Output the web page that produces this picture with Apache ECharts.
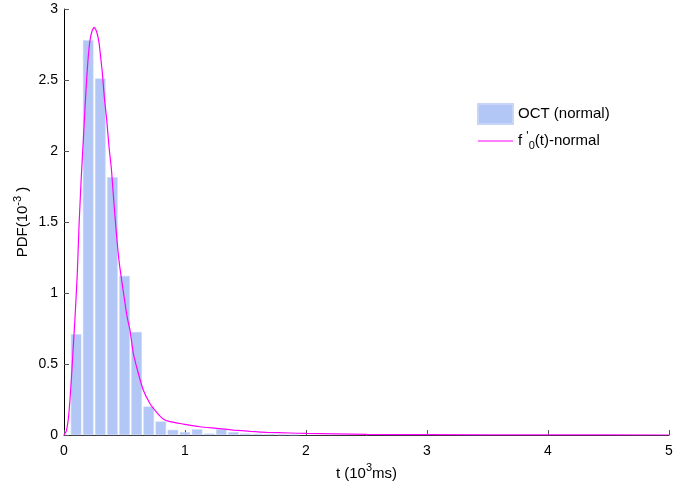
<!DOCTYPE html>
<html lang="en">
<head>
    <meta charset="utf-8">
    <title>PDF</title>
    <script src="https://cdn.jsdelivr.net/npm/echarts@6/dist/echarts.min.js"></script>
    <style type="text/css">
        html, body {
            margin: 0;
            padding: 0;
            background: #ffffff;
        }

        #main {
            width: 699px;
            height: 494px;
        }
    </style>
</head>
<body>
<div id="main"></div>
<script type="text/javascript">
    // histogram bins (bin centre, 10^3 ms) and heights (10^-3)
    let binCenters = [0.1, 0.2, 0.3, 0.4, 0.5, 0.6, 0.7, 0.8, 0.9, 1.0, 1.1, 1.2, 1.3, 1.4, 1.5, 1.6, 1.7, 1.8, 1.9];
    let binHeights = [0.71, 2.78, 2.51, 1.815, 1.12, 0.725, 0.2, 0.095, 0.036, 0.02, 0.04, 0.01, 0.04, 0.02, 0.01, 0.008, 0.006, 0.004, 0.003];

    // fitted curve
    let curveT = [0, 0.02, 0.04, 0.06, 0.075, 0.09, 0.11, 0.124, 0.143, 0.16, 0.174, 0.187, 0.2, 0.215, 0.234, 0.25,
        0.27, 0.29, 0.303, 0.317, 0.333, 0.353, 0.372, 0.392, 0.413, 0.435, 0.457, 0.48, 0.504, 0.522, 0.545, 0.573,
        0.614, 0.655, 0.71, 0.766, 0.82, 0.876, 0.986, 1.124, 1.26, 1.4, 1.54, 1.675, 1.87, 2.0, 2.5, 3, 4, 5];
    let curvePdf = [0, 0.03, 0.15, 0.38, 0.6, 0.81, 1.14, 1.47, 1.82, 2.08, 2.31, 2.5, 2.66, 2.78, 2.85, 2.87,
        2.84, 2.76, 2.66, 2.55, 2.38, 2.22, 2.03, 1.87, 1.63, 1.40, 1.21, 1.07, 0.93, 0.83, 0.74, 0.575,
        0.435, 0.317, 0.222, 0.16, 0.113, 0.094, 0.077, 0.058, 0.047, 0.035, 0.026, 0.019, 0.014, 0.011, 0.005, 0.002, 0.001, 0];

    let xTicks = [0, 1, 2, 3, 4, 5];
    let yTicks = [0, 0.5, 1, 1.5, 2, 2.5, 3];

    let barData = [];
    for (let i = 0; i < binCenters.length; i++) {
        barData.push([binCenters[i], binHeights[i]]);
    }
    let lineData = [];
    for (let i = 0; i < curveT.length; i++) {
        lineData.push([curveT[i], curvePdf[i]]);
    }

    let font = "'Liberation Sans', Arial, sans-serif";
    let myChart = echarts.init(document.getElementById('main'));

    myChart.setOption({
        animation: false,
        backgroundColor: '#ffffff',
        textStyle: {fontFamily: font},
        grid: {left: 64, right: 30, top: 9, bottom: 59, containLabel: false, outerBoundsMode: 'none'},
        legend: {
            orient: 'vertical',
            left: 477,
            top: 103,
            padding: 0,
            itemWidth: 35,
            itemHeight: 20,
            itemGap: 6,
            textStyle: {
                fontFamily: font,
                fontSize: 15,
                color: '#000',
                rich: {
                    n: {fontSize: 15, fontFamily: font, color: '#000', lineHeight: 20},
                    sup: {fontSize: 12, fontFamily: font, color: '#000', verticalAlign: 'top', lineHeight: 20},
                    sub: {fontSize: 11, fontFamily: font, color: '#000', verticalAlign: 'bottom', lineHeight: 20}
                }
            },
            formatter: function (name) {
                if (name === 'fit') {
                    return "{n|f }{sup|'}{sub|0}{n|(t)-normal}";
                }
                return '{n|' + name + '}';
            },
            data: [
                {name: 'OCT (normal)', icon: 'rect'},
                {name: 'fit', itemStyle: {opacity: 0}, lineStyle: {color: '#ff00ff', width: 1}}
            ]
        },
        xAxis: {
            type: 'value',
            min: xTicks[0],
            max: xTicks[xTicks.length - 1],
            interval: 1,
            name: '{n|t (10}{sup|3}{n|ms)}',
            nameLocation: 'middle',
            nameGap: 21,
            nameTextStyle: {
                rich: {
                    n: {fontSize: 15, fontFamily: font, color: '#000', lineHeight: 22},
                    sup: {fontSize: 11, fontFamily: font, color: '#000', verticalAlign: 'top', lineHeight: 22}
                }
            },
            axisLine: {show: true, onZero: false, lineStyle: {color: '#333', width: 1}},
            axisTick: {show: true, inside: true, length: 5, lineStyle: {color: '#555'}},
            axisLabel: {fontSize: 14, color: '#000', margin: 9, fontFamily: font},
            splitLine: {show: false}
        },
        yAxis: {
            type: 'value',
            min: yTicks[0],
            max: yTicks[yTicks.length - 1],
            interval: 0.5,
            name: '{n|PDF(10}{sup|-3}{n| )}',
            nameLocation: 'middle',
            nameGap: 30,
            nameMoveOverlap: false,
            nameRotate: 90,
            nameTextStyle: {
                rich: {
                    n: {fontSize: 15, fontFamily: font, color: '#000', lineHeight: 22},
                    sup: {fontSize: 11, fontFamily: font, color: '#000', verticalAlign: 'top', lineHeight: 22}
                }
            },
            axisLine: {show: true, lineStyle: {color: '#000', width: 1}},
            axisTick: {show: true, inside: true, length: 5, lineStyle: {color: '#555'}},
            axisLabel: {fontSize: 14, color: '#000', margin: 6, fontFamily: font},
            splitLine: {show: false}
        },
        series: [
            {
                name: 'OCT (normal)',
                type: 'bar',
                data: barData,
                barWidth: 10.5,
                itemStyle: {color: '#b3c7f7', borderColor: '#c7d5f9', borderWidth: 0.5},
                z: 2
            },
            {
                name: 'fit',
                type: 'line',
                data: lineData,
                symbol: 'none',
                smooth: 0.2,
                lineStyle: {color: '#ff00ff', width: 1.2},
                itemStyle: {color: '#ff00ff'},
                z: 3
            }
        ]
    });
</script>
</body>
</html>
